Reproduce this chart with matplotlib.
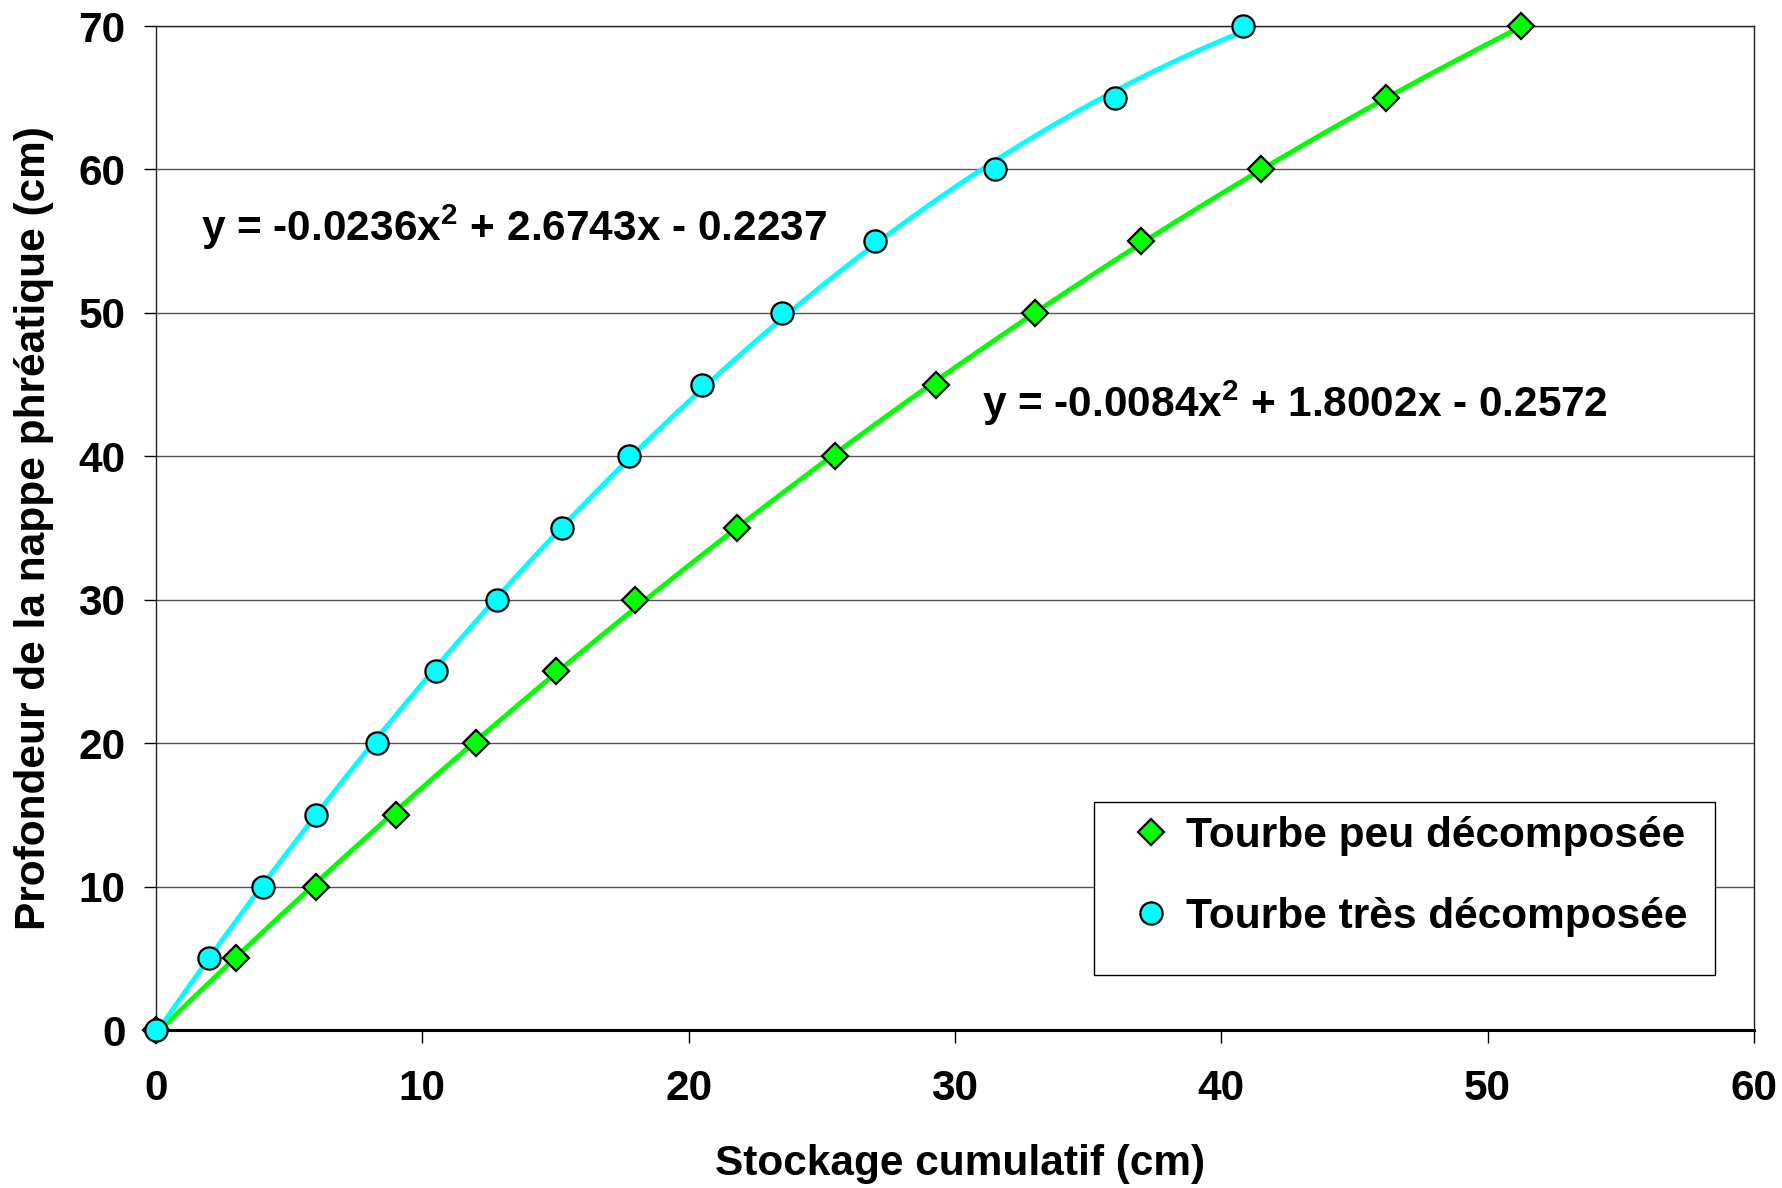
import numpy as np
import matplotlib
matplotlib.use("Agg")
import matplotlib.pyplot as plt
from matplotlib.patches import Rectangle

# Data
depth = [0, 5, 10, 15, 20, 25, 30, 35, 40, 45, 50, 55, 60, 65, 70]
stock_peu = [0, 3.0, 6.0, 9.0, 12.0, 15.0, 18.0, 21.8, 25.5, 29.3, 33.0, 37.0, 41.5, 46.2, 51.25]
stock_tres = [0, 2.0, 4.0, 6.0, 8.3, 10.5, 12.8, 15.25, 17.75, 20.5, 23.5, 27.0, 31.5, 36.0, 40.8]
coef_peu = [-0.0084, 1.8002, -0.2572]
coef_tres = [-0.0236, 2.6743, -0.2237]
label_peu = "Tourbe peu décomposée"
label_tres = "Tourbe très décomposée"
eq_peu = r"y = -0.0084x$^\mathregular{2}$ + 1.8002x - 0.2572"
eq_tres = r"y = -0.0236x$^\mathregular{2}$ + 2.6743x - 0.2237"
x_ticks = [0, 10, 20, 30, 40, 50, 60]
y_ticks = [0, 10, 20, 30, 40, 50, 60, 70]

plt.rcParams['font.family'] = ['Liberation Sans', 'DejaVu Sans']
plt.rcParams['font.weight'] = 'bold'
FS = 30.5

W, H = 1782, 1188
fig = plt.figure(figsize=(W/100, H/100), dpi=100)
ax = fig.add_axes([156/W, 1-1030/H, (1754-156)/W, (1030-26)/H])

# trendlines
xs2 = np.linspace(0, max(stock_peu), 300)
ax.plot(xs2, np.polyval(coef_peu, xs2), color='#00FF00', lw=3.5, zorder=2)
xs = np.linspace(0, max(stock_tres), 300)
ax.plot(xs, np.polyval(coef_tres, xs), color='#00FFFF', lw=3.5, zorder=2)

ax.plot(stock_peu, depth, linestyle='none', marker='D', markersize=13,
        markerfacecolor='#00FF00', markeredgecolor='black', markeredgewidth=1.6,
        label=label_peu, zorder=3, clip_on=False)
ax.plot(stock_tres, depth, linestyle='none', marker='o', markersize=16,
        markerfacecolor='#00FFFF', markeredgecolor='black', markeredgewidth=1.6,
        label=label_tres, zorder=4, clip_on=False)

ax.set_xlim(0, 60)
ax.set_ylim(0, 70)
ax.set_xticks(x_ticks)
ax.set_yticks(y_ticks)
ax.grid(axis='y', color='#555555', lw=1)
ax.set_axisbelow(True)
for s in ['left', 'right', 'top']:
    ax.spines[s].set_linewidth(1)
    ax.spines[s].set_color('#222222')
ax.spines['bottom'].set_linewidth(2.2)
ax.spines['bottom'].set_zorder(2.5)

ax.tick_params(axis='x', direction='out', length=9, width=1, pad=19, labelsize=FS)
ax.tick_params(axis='y', direction='out', length=9, width=1, pad=13, labelsize=FS)
for lab in ax.get_xticklabels() + ax.get_yticklabels():
    lab.set_fontweight('bold')

ax.set_xlabel("Stockage cumulatif (cm)", fontsize=FS, fontweight='bold')
ax.set_ylabel("Profondeur de la nappe phréatique (cm)", fontsize=FS, fontweight='bold')
ax.xaxis.label.set_va('center')
ax.yaxis.label.set_va('center')
ax.xaxis.set_label_coords((960 - 156) / 1598, (1030 - 1164) / 1004)
ax.yaxis.set_label_coords((34 - 156) / 1598, 0.5)

ax.text(1.7, 56, eq_tres, fontsize=FS, fontweight='bold', ha='left', va='center')
ax.text(31.0, 43.7, eq_peu, fontsize=FS, fontweight='bold', ha='left', va='center')

# legend frame (Excel-like box with extra bottom space)
ax.add_patch(Rectangle((1094/W, 1-975/H), (1715-1094)/W, (975-802)/H,
                       transform=fig.transFigure, facecolor='white',
                       edgecolor='black', lw=1, zorder=6, clip_on=False))
fpx = FS * 100 / 72
leg = ax.legend(loc='upper left', bbox_to_anchor=(1130/W, 1-816/H),
                bbox_transform=fig.transFigure, fontsize=FS, frameon=False,
                borderpad=0, labelspacing=0.96, handletextpad=14/fpx,
                handlelength=1.0, borderaxespad=0)
for t in leg.get_texts():
    t.set_fontweight('bold')
leg.set_zorder(7)

fig.savefig("out.png", dpi=100)
